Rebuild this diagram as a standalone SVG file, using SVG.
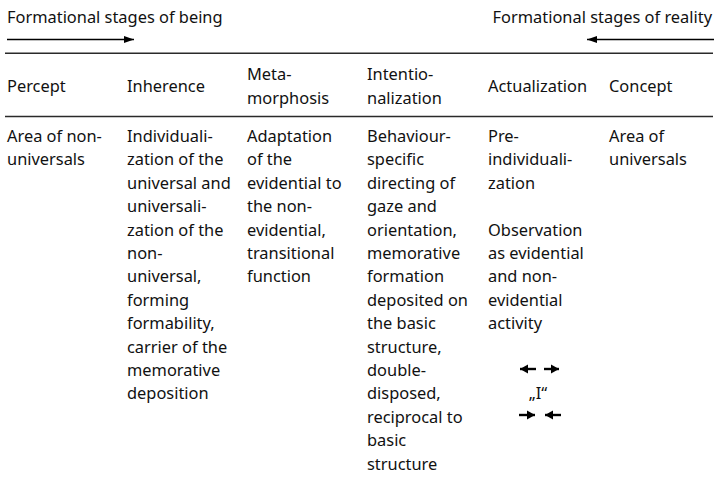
<svg xmlns="http://www.w3.org/2000/svg" width="715" height="478" viewBox="0 0 715 478">
<defs>
<style>
text{font-family:"Noto Sans","Open Sans","DejaVu Sans",sans-serif;font-size:16.4px;fill:#111}
.rule{stroke:#2a2a2a;stroke-width:1.6;fill:none}
.arr{stroke:#000;stroke-width:1.3;fill:none}
.sarr{stroke:#000;stroke-width:2.4;fill:none}
</style>
<marker id="big" markerUnits="userSpaceOnUse" markerWidth="12" markerHeight="10" refX="10" refY="5" orient="auto" viewBox="0 0 12 10">
<path d="M0,1.5 L10,5 L0,8.5 Z" fill="#000"/>
</marker>
<marker id="small" markerUnits="userSpaceOnUse" markerWidth="9" markerHeight="10" refX="8" refY="5" orient="auto" viewBox="0 0 9 10">
<path d="M0,0.5 L8,5 L0,9.5 Z" fill="#000"/>
</marker>
</defs>
<rect width="715" height="478" fill="#fff"/>

<g id="titles">
<text x="7" y="23">Formational stages of being</text>
<text x="712" y="23" text-anchor="end">Formational stages of reality</text>
</g>

<g id="rules">
<line class="rule" x1="5" y1="53.3" x2="713" y2="53.3"/>
<line class="rule" x1="5" y1="116.5" x2="713" y2="116.5"/>
</g>

<g id="connectors">
<line class="arr" x1="7" y1="39.5" x2="134" y2="39.5" marker-end="url(#big)"/>
<line class="arr" x1="714" y1="39.5" x2="587" y2="39.5" marker-end="url(#big)"/>
<line class="sarr" x1="536" y1="369" x2="520" y2="369" marker-end="url(#small)"/>
<line class="sarr" x1="544" y1="369" x2="559" y2="369" marker-end="url(#small)"/>
<line class="sarr" x1="519" y1="415" x2="535" y2="415" marker-end="url(#small)"/>
<line class="sarr" x1="561" y1="415" x2="545" y2="415" marker-end="url(#small)"/>
</g>

<g id="percept">
<text x="7" y="91.7">Percept</text>
<text x="7" y="142">Area of non-</text>
<text x="7" y="165.4">universals</text>
</g>

<g id="inherence">
<text x="127" y="91.7">Inherence</text>
<text x="127" y="142">Individuali-</text>
<text x="127" y="165.4">zation of the</text>
<text x="127" y="188.8">universal and</text>
<text x="127" y="212.2">universali-</text>
<text x="127" y="235.6">zation of the</text>
<text x="127" y="259">non-</text>
<text x="127" y="282.4">universal,</text>
<text x="127" y="305.8">forming</text>
<text x="127" y="329.2">formability,</text>
<text x="127" y="352.6">carrier of the</text>
<text x="127" y="376">memorative</text>
<text x="127" y="399.4">deposition</text>
</g>

<g id="metamorphosis">
<text x="247" y="80.3">Meta-</text>
<text x="247" y="103.7">morphosis</text>
<text x="247" y="142">Adaptation</text>
<text x="247" y="165.4">of the</text>
<text x="247" y="188.8">evidential to</text>
<text x="247" y="212.2">the non-</text>
<text x="247" y="235.6">evidential,</text>
<text x="247" y="259">transitional</text>
<text x="247" y="282.4">function</text>
</g>

<g id="intentionalization">
<text x="367" y="80.3">Intentio-</text>
<text x="367" y="103.7">nalization</text>
<text x="367" y="142">Behaviour-</text>
<text x="367" y="165.4">specific</text>
<text x="367" y="188.8">directing of</text>
<text x="367" y="212.2">gaze and</text>
<text x="367" y="235.6">orientation,</text>
<text x="367" y="259">memorative</text>
<text x="367" y="282.4">formation</text>
<text x="367" y="305.8">deposited on</text>
<text x="367" y="329.2">the basic</text>
<text x="367" y="352.6">structure,</text>
<text x="367" y="376">double-</text>
<text x="367" y="399.4">disposed,</text>
<text x="367" y="422.8">reciprocal to</text>
<text x="367" y="446.2">basic</text>
<text x="367" y="469.6">structure</text>
</g>

<g id="actualization">
<text x="488" y="91.7">Actualization</text>
<text x="488" y="142">Pre-</text>
<text x="488" y="165.4">individuali-</text>
<text x="488" y="188.8">zation</text>
<text x="488" y="235.6">Observation</text>
<text x="488" y="259">as evidential</text>
<text x="488" y="282.4">and non-</text>
<text x="488" y="305.8">evidential</text>
<text x="488" y="329.2">activity</text>
<text x="538" y="399.4" text-anchor="middle">„I“</text>
</g>

<g id="concept">
<text x="609" y="91.7">Concept</text>
<text x="609" y="142">Area of</text>
<text x="609" y="165.4">universals</text>
</g>
</svg>
